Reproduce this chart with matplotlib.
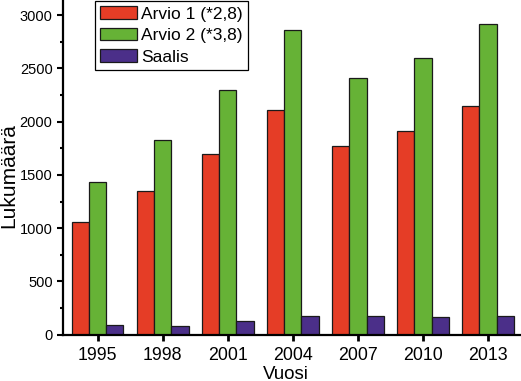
import numpy as np
import matplotlib

matplotlib.use("Agg")

import matplotlib.pyplot as plt
from matplotlib.ticker import MultipleLocator


# ========================================================
# DATI
# ========================================================

years = ["1995", "1998", "2001", "2004", "2007", "2010", "2013"]

arvio_1 = [1060, 1350, 1700, 2110, 1770, 1910, 2145]

arvio_2 = [1430, 1825, 2300, 2860, 2410, 2600, 2915]

saalis = [90, 80, 125, 180, 175, 165, 175]

series_labels = ["Arvio 1 (*2,8)", "Arvio 2 (*3,8)", "Saalis"]

series_colors = ["#E53D26", "#66B236", "#4B2F89"]


plt.rcParams["font.family"] = ["Liberation Sans", "DejaVu Sans"]


# ========================================================
# CREAZIONE DEL GRAFICO
# ========================================================

figure = plt.figure(
    figsize=(5.21, 3.81),
    dpi=100,
)

axis = figure.add_axes(
    [63 / 521, 0.1215, 458 / 521, 0.8785]
)

positions = np.arange(len(years))

bar_width = 0.266

for offset, values, label, color in zip(
    [-1, 0, 1],
    [arvio_1, arvio_2, saalis],
    series_labels,
    series_colors,
):

    axis.bar(
        positions + offset * bar_width,
        values,
        width=bar_width,
        color=color,
        edgecolor="#1a1a1a",
        linewidth=0.9,
        label=label,
    )


axis.set_xlim(-0.53, 6.505)

axis.set_ylim(0, 3143)

axis.set_xticks(positions)

axis.set_xticklabels(years, fontsize=12.8)

axis.yaxis.set_major_locator(MultipleLocator(500))

axis.yaxis.set_minor_locator(MultipleLocator(250))

axis.tick_params(axis="y", which="major", labelsize=10.5, length=4, width=1.5, pad=3.5)

axis.tick_params(axis="y", which="minor", length=2.5, width=1.5)

axis.tick_params(axis="x", which="major", length=4.5, width=2, pad=4)

for side in ["top", "right"]:
    axis.spines[side].set_visible(False)

for side in ["left", "bottom"]:
    axis.spines[side].set_linewidth(1.6)


axis.set_xlabel("Vuosi", fontsize=13.5)

axis.set_ylabel("Lukumäärä", fontsize=15)

axis.xaxis.set_label_coords(0.487, -0.092)

axis.yaxis.set_label_coords(-0.098, 0.474)


legend = axis.legend(
    loc="upper left",
    bbox_to_anchor=(32 / 458, 0.997),
    borderaxespad=0,
    fontsize=12.5,
    frameon=True,
    fancybox=False,
    framealpha=1,
    edgecolor="black",
    handlelength=2.1,
    handleheight=0.75,
    handletextpad=0.25,
    labelspacing=0.35,
    borderpad=0.3,
)

legend.get_frame().set_linewidth(0.9)


# ========================================================
# SALVATAGGIO
# ========================================================

figure.savefig("out.png", dpi=100)

plt.close(figure)
